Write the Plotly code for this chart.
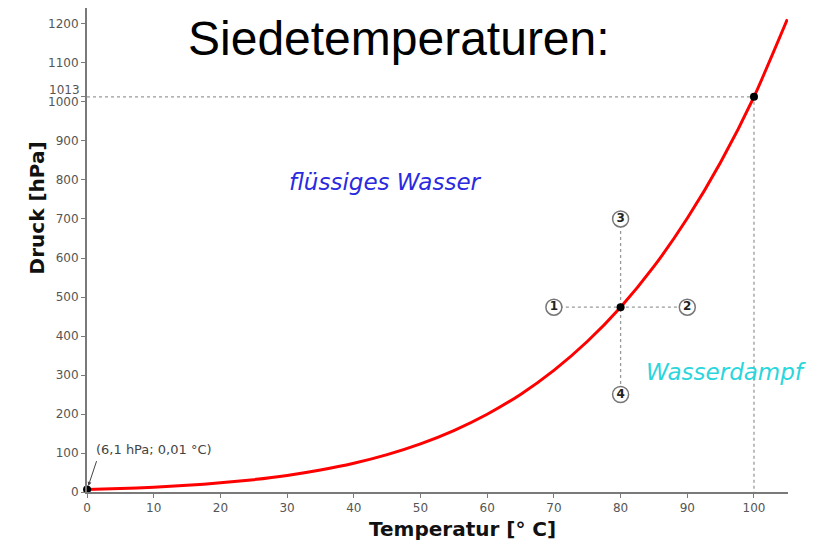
import plotly.graph_objects as go

# Saturation (boiling) pressure curve of water
temperatur = [0, 5, 10, 15, 20, 25, 30, 35, 40, 45, 50, 55, 60, 65, 70, 75, 80, 85, 90, 95, 100, 105]
druck = [6.1, 8.7, 12.3, 17.0, 23.4, 31.7, 42.4, 56.3, 73.8, 95.9, 123.4, 157.5, 199.3, 250.2,
         311.8, 385.8, 473.8, 578.3, 701.8, 845.6, 1013.2, 1212.0]

# Marked points
punkte_t = [0.01, 80, 100]
punkte_p = [6.1, 473.8, 1013.2]

# Numbered state changes around (80 °C, 474 hPa)
nummer_text = ["<b>1</b>", "<b>2</b>", "<b>3</b>", "<b>4</b>"]
nummer_t = [70, 90, 80, 80]
nummer_p = [473.8, 473.8, 700, 250]

# Ticks
x_ticks = [0, 10, 20, 30, 40, 50, 60, 70, 80, 90, 100]
y_ticks = [0, 100, 200, 300, 400, 500, 600, 700, 800, 900, 1000, 1013, 1100, 1200]
y_ticktext = ["0", "100", "200", "300", "400", "500", "600", "700", "800", "900", "1000", "", "1100", "1200"]

siede_t = 100
siede_p = 1013.2

dash_style = dict(color="#9a9a9a", width=1.3, dash="3px,3px")

fig = go.Figure()

# dashed guide lines for normal boiling point
fig.add_trace(go.Scatter(x=[x_ticks[0], siede_t, siede_t], y=[siede_p, siede_p, y_ticks[0]],
                         mode="lines", line=dash_style, hoverinfo="skip", showlegend=False))
# dashed cross through 80 °C point
fig.add_trace(go.Scatter(x=[nummer_t[0], nummer_t[1]], y=[nummer_p[0], nummer_p[1]],
                         mode="lines", line=dash_style, hoverinfo="skip", showlegend=False))
fig.add_trace(go.Scatter(x=[nummer_t[2], nummer_t[3]], y=[nummer_p[2], nummer_p[3]],
                         mode="lines", line=dash_style, hoverinfo="skip", showlegend=False))

# vapor pressure curve
fig.add_trace(go.Scatter(x=temperatur, y=druck, mode="lines",
                         line=dict(color="#ff0000", width=3, shape="spline", smoothing=0.6),
                         showlegend=False, cliponaxis=False))

# black points
fig.add_trace(go.Scatter(x=punkte_t, y=punkte_p, mode="markers",
                         marker=dict(color="black", size=8), showlegend=False, cliponaxis=False))

# numbered circles
fig.add_trace(go.Scatter(x=nummer_t, y=nummer_p, mode="markers+text", text=nummer_text,
                         textposition="middle center",
                         textfont=dict(family="DejaVu Sans", size=12, color="#222"),
                         marker=dict(color="white", size=16, line=dict(color="#777", width=1.5)),
                         showlegend=False))

axis_common = dict(showgrid=False, zeroline=False, showline=True, linecolor="#7a7a7a", linewidth=2,
                   ticks="outside", ticklen=4, tickwidth=1, tickcolor="#7a7a7a",
                   tickfont=dict(family="DejaVu Sans", size=12, color="#555"))

fig.update_xaxes(range=[0, 105.1], tickvals=x_ticks, ticktext=[str(v) for v in x_ticks], **axis_common)
fig.update_yaxes(range=[0, 1241], tickvals=y_ticks, ticktext=y_ticktext, **axis_common)

fig.update_layout(
    width=818, height=542,
    margin=dict(l=79, r=38, t=0, b=58),
    plot_bgcolor="white", paper_bgcolor="white",
    annotations=[
        dict(text="Siedetemperaturen:", xref="paper", yref="paper", x=0.445, y=0.938,
             xanchor="center", yanchor="middle", showarrow=False,
             font=dict(family="Liberation Sans", size=48, color="black")),
        dict(text="<b>Druck [hPa]</b>", xref="paper", yref="paper", x=-0.072, y=0.587,
             textangle=-90, xanchor="center", yanchor="middle", showarrow=False,
             font=dict(family="DejaVu Sans", size=20, color="#111")),
        dict(text="<b>Temperatur [° C]</b>", xref="paper", yref="paper", x=0.536, y=-0.0764,
             xanchor="center", yanchor="middle", showarrow=False,
             font=dict(family="DejaVu Sans", size=20, color="#111")),
        dict(text="1013", xref="paper", x=0, y=y_ticks[11], xanchor="right", yanchor="middle",
             xshift=-5, yshift=7, showarrow=False,
             font=dict(family="DejaVu Sans", size=12, color="#555")),
        dict(text="<i>flüssiges Wasser</i>", x=44.7, y=795, xanchor="center", yanchor="middle",
             showarrow=False, font=dict(family="DejaVu Sans", size=23, color="#2a2ae0")),
        dict(text="<i>Wasserdampf</i>", x=95.8, y=308, xanchor="center", yanchor="middle",
             showarrow=False, font=dict(family="DejaVu Sans", size=23, color="#2ad6dc")),
        dict(text="(6,1 hPa; 0,01 °C)", x=1.1, y=110, xanchor="left", yanchor="middle",
             showarrow=False, font=dict(family="DejaVu Sans", size=13, color="#444")),
        dict(text="", x=punkte_t[0], y=punkte_p[0], ax=10, ay=-30, showarrow=True,
             arrowhead=2, arrowsize=0.8, arrowwidth=1, arrowcolor="#444", standoff=4),
    ],
)

fig.write_html("out.html")
